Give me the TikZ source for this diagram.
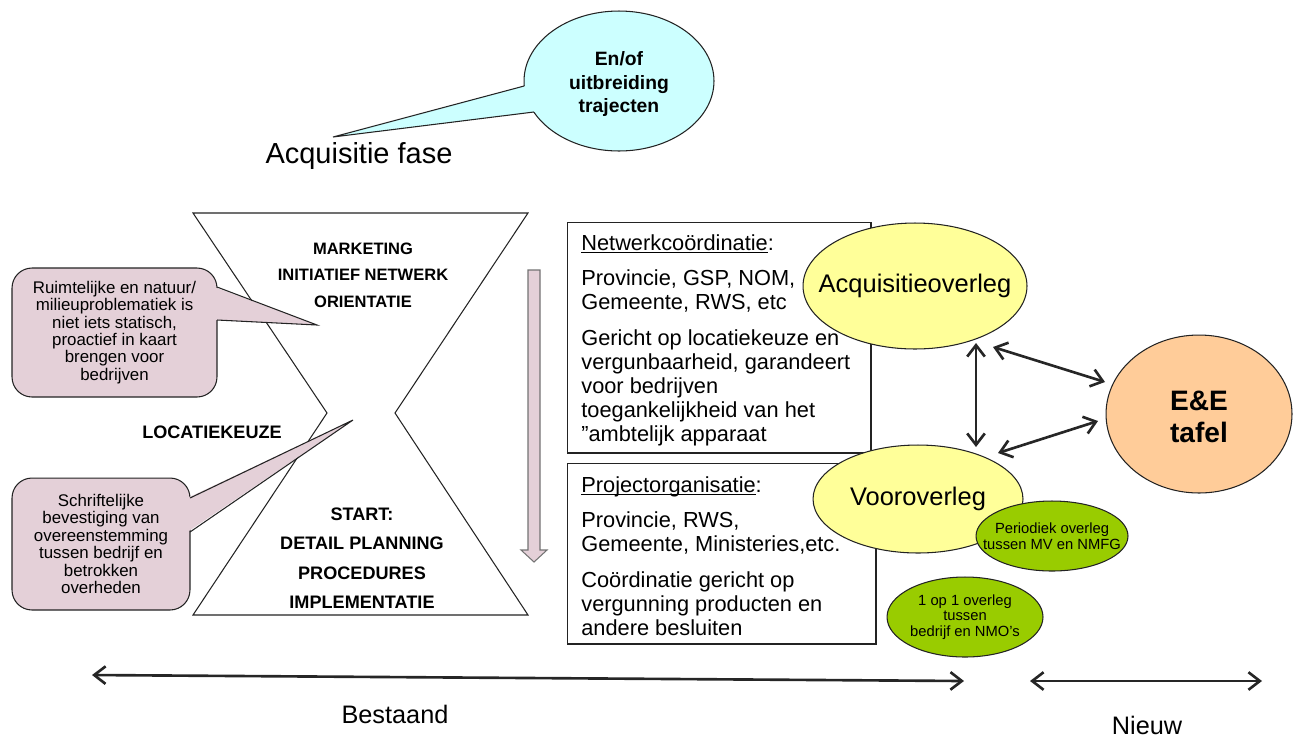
\documentclass[tikz,border=0pt]{standalone}
\usepackage{fontspec}
\setmainfont{Liberation Sans}
\usetikzlibrary{arrows.meta,shapes.geometric}
\definecolor{callpink}{RGB}{228,208,216}
\definecolor{callcyan}{RGB}{204,255,255}
\definecolor{overyel}{RGB}{255,255,153}
\definecolor{tafelorange}{RGB}{255,204,153}
\definecolor{overgreen}{RGB}{153,204,0}
\definecolor{edge}{RGB}{35,35,35}
\newcommand{\undl}[1]{\setbox0\hbox{#1}\rlap{\rule[-1.6pt]{\wd0}{0.5pt}}#1}

\begin{document}
\begin{tikzpicture}[x=0.02cm,y=-0.02cm,
	oval/.style={draw=edge,line width=0.6pt,shape=ellipse,inner sep=0pt,outer sep=0pt},
	callout/.style={draw=edge,line width=0.6pt,fill=callpink,rounded corners=0.4cm,align=center,inner sep=0pt,outer sep=0pt,font=\fontsize{9.6}{9.9}\selectfont},
	panel/.style={draw=edge,line width=0.6pt,shape=rectangle,inner sep=0pt,outer sep=0pt},
	paneltext/.style={anchor=west,align=left,inner sep=0pt,font=\fontsize{12.4}{13.6}\selectfont},
	hgtext/.style={align=center,inner sep=0pt,font=\bfseries\fontsize{9.4}{15}\selectfont},
	hgbig/.style={align=center,inner sep=0pt,font=\bfseries\fontsize{10.3}{16.8}\selectfont},
	greentext/.style={align=center,inner sep=0pt,font=\fontsize{8.4}{9}\selectfont},
	link/.style={draw=black!85,line width=1.5pt,{Straight Barb[length=6.5pt,width=10pt]}-{Straight Barb[length=6.5pt,width=10pt]}}]
\useasboundingbox (0,0) rectangle (1293,738);

% acquisitie fase with bubble
\node[oval,fill=callcyan,minimum width=3.8cm,minimum height=2.8cm] (cyan) at (619,81) {};
\coordinate (atip) at (333,137);
\fill[callcyan] (cyan.183) -- (atip) -- (cyan.200) -- (cyan.center) -- cycle;
\draw[edge,line width=0.6pt] (cyan.183) -- (atip) -- (cyan.200);
\node[align=center,inner sep=0pt,font=\bfseries\fontsize{11}{13.3}\selectfont] (cyantxt) at (619,84) {En/of\\uitbreiding\\trajecten};
\node[inner sep=0pt,font=\fontsize{16.5}{18}\selectfont] (fase) at (359,156) {Acquisitie fase};

% hourglass
\draw[edge,line width=0.6pt] (193,213) -- (528,213) -- (395,413) -- (528,615) -- (193,615) -- (327,413) -- cycle;
\node[hgtext] (orient) at (363,275) {MARKETING\\INITIATIEF NETWERK\\ORIENTATIE};
\node[hgbig] (keuze) at (212,432) {LOCATIEKEUZE};
\node[hgbig] (start) at (362,558) {START:\\DETAIL PLANNING\\PROCEDURES\\IMPLEMENTATIE};
\draw[draw=black!55,line width=0.6pt,fill=callpink] (528,270) -- (540,270) -- (540,550) -- (547,550) -- (534,562) -- (521,550) -- (528,550) -- cycle;

% callouts left
\node[callout,minimum width=4.1cm,minimum height=2.58cm] (ruimte) at (114.5,332.5) {Ruimtelijke en natuur/\\milieuproblematiek is\\niet iets statisch,\\proactief in kaart\\brengen voor\\bedrijven};
\coordinate (ra) at (217,287);
\coordinate (rb) at (217,320);
\coordinate (rtip) at (317,325);
\fill[callpink] ([xshift=-1.5pt]ra) -- (rtip) -- ([xshift=-1.5pt]rb) -- cycle;
\draw[edge,line width=0.6pt] (ra) -- (rtip) -- (rb);

\node[callout,minimum width=3.56cm,minimum height=2.64cm] (schrift) at (101,544) {Schriftelijke\\bevestiging van\\overeenstemming\\tussen bedrijf en\\betrokken\\overheden};
\coordinate (sa) at (190,498);
\coordinate (sb) at (190,532);
\coordinate (stip) at (353,420);
\fill[callpink] ([xshift=-1.5pt]sa) -- (stip) -- ([xshift=-1.5pt]sb) -- cycle;
\draw[edge,line width=0.6pt] (sa) -- (stip) -- (sb);

% text panels
\node[panel,minimum width=6.08cm,minimum height=4.62cm] (netbox) at (719,337.5) {};
\node[paneltext] (nettxt) at (581,340) {\undl{Netwerkcoördinatie}:\\[6.8pt]
	Provincie, GSP, NOM,\\
	Gemeente, RWS, etc\\[6.8pt]
	Gericht op locatiekeuze en\\
	vergunbaarheid, garandeert\\
	voor bedrijven\\
	toegankelijkheid van het\\
	”ambtelijk apparaat};
\node[panel,minimum width=6.18cm,minimum height=3.62cm] (projbox) at (721.5,553.5) {};
\node[paneltext] (projtxt) at (581,556) {\undl{Projectorganisatie}:\\[6.8pt]
	Provincie, RWS,\\
	Gemeente, Ministeries,etc.\\[6.8pt]
	Coördinatie gericht op\\
	vergunning producten en\\
	andere besluiten};

% overleg ellipses
\node[oval,fill=overyel,minimum width=4.48cm,minimum height=2.52cm] (acq) at (915,286) {};
\node[inner sep=0pt,font=\fontsize{14.5}{16}\selectfont] (acqtxt) at (acq) {Acquisitieoverleg};
\node[oval,fill=overyel,minimum width=4.2cm,minimum height=2.16cm] (voor) at (918,499) {};
\node[inner sep=0pt,font=\fontsize{14.5}{16}\selectfont] (voortxt) at (voor) {Vooroverleg};
\node[oval,fill=tafelorange,minimum width=3.72cm,minimum height=3.16cm] (ee) at (1199,414) {};
\node[align=center,inner sep=0pt,font=\bfseries\fontsize{16}{18}\selectfont] (eetxt) at (1199,417) {E\&E\\tafel};
\node[oval,fill=overgreen,minimum width=3.04cm,minimum height=1.4cm] (mv) at (1052,536) {};
\node[greentext] (mvtxt) at (mv) {Periodiek overleg\\tussen MV en NMFG};
\node[oval,fill=overgreen,minimum width=3.12cm,minimum height=1.6cm] (nmo) at (965,617) {};
\node[greentext] (nmotxt) at (nmo) {1 op 1 overleg\\tussen\\bedrijf en NMO's};

\draw[link] ([shift={(61,57)}]acq.center) -- ([shift={(58,-52)}]voor.center);
\draw[link] ([shift={(78,61)}]acq.center) -- ([shift={(-94,-32)}]ee.center);
\draw[link] ([shift={(80,-46)}]voor.center) -- ([shift={(-101,7)}]ee.center);

% time line
\coordinate (bl) at (92,675);
\coordinate (br) at (964,681);
\draw[link] (bl) -- (br);
\coordinate (nl) at (1030,681);
\coordinate (nr) at (1262,681);
\draw[link] (nl) -- (nr);
\node[inner sep=0pt,font=\fontsize{14.4}{16}\selectfont] (bestaand) at (395,714) {Bestaand};
\node[inner sep=0pt,font=\fontsize{14.4}{16}\selectfont] (nieuw) at (1147,725) {Nieuw};
\end{tikzpicture}
\end{document}
